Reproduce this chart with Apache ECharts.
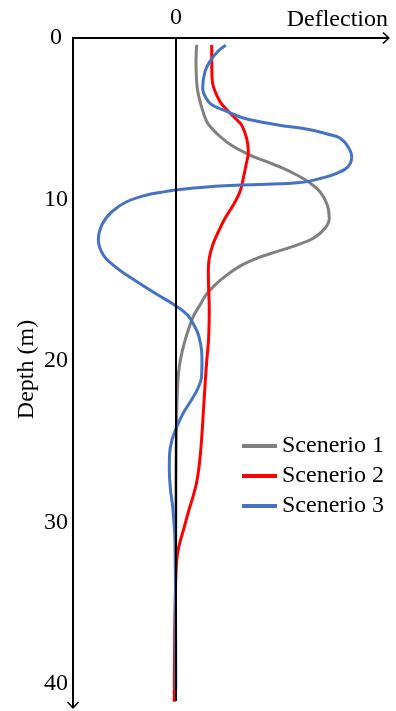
<!DOCTYPE html>
<html>
<head>
<meta charset="utf-8">
<script src="https://cdn.jsdelivr.net/npm/echarts@6/dist/echarts.min.js"></script>
<style>
  html, body { margin: 0; padding: 0; background: #fff; }
  #chart { width: 396px; height: 711px; }
</style>
</head>
<body>
<div id="chart"></div>
<script>
// Pile deflection profiles against depth for three scenarios.
const seriesNames = ['Scenerio 1', 'Scenerio 2', 'Scenerio 3'];
const seriesColors = ['#808080', '#ff0000', '#4472c4'];

// Scenerio 1: depth (m) and deflection
const depth1 = [0.43, 1.36, 2.29, 3.22, 4.15, 5.14, 5.57, 6.01, 6.63, 7.25, 7.66, 8.07, 8.48, 8.90, 9.52, 10.34, 11.16, 11.78, 12.40, 12.82, 13.23, 13.64, 14.06, 14.68, 15.29, 15.91, 16.53, 17.28, 18.39, 19.32, 20.25, 21.18, 22.42, 24.27, 26.75, 31.70, 36.04, 40.56];
const defl1  = [2.01, 1.94, 1.97, 2.09, 2.43, 2.96, 3.45, 4.13, 5.34, 7.18, 8.81, 10.42, 11.72, 12.84, 13.98, 14.69, 14.88, 14.47, 13.33, 11.72, 9.78, 7.83, 6.38, 4.92, 3.79, 2.91, 2.33, 1.65, 1.04, 0.63, 0.34, 0.19, 0.10, 0.04, 0.00, -0.03, -0.06, -0.08];

// Scenerio 2
const depth2 = [0.43, 1.36, 2.29, 2.91, 3.53, 4.03, 4.52, 5.14, 5.39, 6.21, 7.04, 7.86, 8.69, 9.52, 10.34, 11.16, 11.99, 12.82, 13.64, 14.47, 15.29, 16.84, 18.70, 19.94, 21.49, 23.22, 24.89, 26.32, 27.55, 28.61, 29.41, 30.34, 31.08, 31.83, 32.63, 34.18, 36.66, 41.10];
const defl2  = [3.47, 3.47, 3.49, 3.59, 3.95, 4.37, 5.05, 6.02, 6.38, 6.86, 7.02, 6.80, 6.53, 6.21, 5.56, 4.76, 4.11, 3.56, 3.23, 3.14, 3.16, 3.23, 3.16, 2.99, 2.82, 2.65, 2.48, 2.28, 1.99, 1.55, 1.17, 0.78, 0.44, 0.17, 0.04, -0.05, -0.12, -0.17];

// Scenerio 3
const depth3 = [0.45, 0.82, 1.44, 2.06, 3.10, 3.72, 4.13, 4.54, 4.95, 5.37, 5.68, 5.99, 6.19, 6.73, 7.35, 7.97, 8.38, 8.67, 8.95, 9.07, 9.16, 9.29, 9.41, 9.57, 9.72, 10.14, 10.76, 11.58, 12.51, 13.44, 14.06, 14.68, 15.29, 15.91, 16.53, 17.15, 17.96, 18.39, 19.32, 20.06, 20.99, 21.67, 22.23, 23.22, 24.09, 24.89, 25.82, 26.75, 27.99, 29.04, 30.28, 31.08, 34.80, 40.37];
const defl3  = [4.83, 4.08, 3.30, 2.82, 2.59, 2.91, 3.47, 4.92, 6.53, 9.78, 13.01, 14.95, 15.92, 16.70, 17.06, 16.70, 15.60, 14.17, 12.04, 8.16, 4.27, 1.65, -0.10, -1.55, -2.84, -4.79, -6.24, -7.21, -7.54, -7.06, -6.09, -4.79, -3.30, -1.75, -0.15, 1.12, 1.89, 2.18, 2.48, 2.52, 2.48, 2.14, 1.68, 0.71, 0.07, -0.39, -0.63, -0.65, -0.53, -0.32, -0.17, -0.10, -0.05, -0.02];

// Axis ranges and ticks
const deflMin = -10, deflMax = 20, deflStep = 10;
const depthMin = 0, depthMax = 41.05, depthStep = 10;
const depthTicks = [0, 10, 20, 30, 40];

const FONT = 'Liberation Serif';
// Open arrow head with a short shaft, pointing along the axis
const ARROW = 'path://M6,0 L12,6.5 L11,7.6 L7,3.3 L7,16 L5,16 L5,3.3 L1,7.6 L0,6.5 Z';

const profiles = [[depth1, defl1], [depth2, defl2], [depth3, defl3]];

const chart = echarts.init(document.getElementById('chart'), null, { renderer: 'canvas' });

const series = profiles.map(([d, v], i) => ({
  name: seriesNames[i],
  type: 'line',
  data: d.map((dep, k) => [v[k], dep]),
  showSymbol: false,
  smooth: 0.4,
  clip: false,
  lineStyle: { color: seriesColors[i], width: 3 },
  itemStyle: { color: seriesColors[i] },
  z: 2 + i
}));

// Zero-deflection reference line
series.push({
  type: 'line',
  data: [],
  silent: true,
  z: 10,
  markLine: {
    silent: true,
    symbol: ['none', 'none'],
    label: { show: false },
    lineStyle: { color: '#000', width: 2, type: 'solid' },
    data: [{ xAxis: 0 }]
  }
});

chart.setOption({
  animation: false,
  backgroundColor: '#fff',
  textStyle: { fontFamily: FONT },
  grid: { left: 73, right: 14, top: 38, bottom: 10, containLabel: false },
  xAxis: {
    type: 'value',
    position: 'top',
    min: deflMin,
    max: deflMax,
    interval: deflStep,
    name: 'Deflection',
    nameLocation: 'end',
    nameGap: 6,
    nameTextStyle: {
      fontFamily: FONT, fontSize: 24, color: '#000',
      align: 'right', verticalAlign: 'bottom', padding: [0, 0, 6, 0]
    },
    axisLine: {
      onZero: false,
      symbol: ['none', ARROW],
      symbolSize: [12, 16],
      lineStyle: { color: '#000', width: 2 }
    },
    axisTick: { show: false },
    splitLine: { show: false },
    axisLabel: {
      margin: 8,
      fontFamily: FONT, fontSize: 24, color: '#000',
      formatter: v => (v === 0 ? '0' : '')
    }
  },
  yAxis: {
    type: 'value',
    inverse: true,
    min: depthMin,
    max: depthMax,
    interval: depthStep,
    name: 'Depth (m)',
    nameLocation: 'middle',
    nameGap: 34,
    nameMoveOverlap: false,
    nameTextStyle: { fontFamily: FONT, fontSize: 24, color: '#000' },
    axisLine: {
      onZero: false,
      // with an inverted axis the first symbol sits at the bottom end
      symbol: [ARROW, 'none'],
      symbolSize: [12, 16],
      lineStyle: { color: '#000', width: 2 }
    },
    axisTick: { show: false },
    splitLine: { show: false },
    axisLabel: {
      margin: 5,
      showMaxLabel: false,
      fontFamily: FONT, fontSize: 24, color: '#000',
      formatter: v => (v === 0 ? '{z|0}' : (depthTicks.includes(v) ? String(v) : '')),
      rich: {
        z: { fontFamily: FONT, fontSize: 24, color: '#000', padding: [0, 6, 0, 0] }
      }
    }
  },
  legend: {
    data: seriesNames,
    orient: 'vertical',
    left: 242,
    top: 434,
    padding: 0,
    icon: 'rect',
    itemWidth: 35,
    itemHeight: 4,
    itemGap: 6,
    textStyle: { fontFamily: FONT, fontSize: 24, color: '#000' }
  },
  series: series
});
</script>
</body>
</html>
